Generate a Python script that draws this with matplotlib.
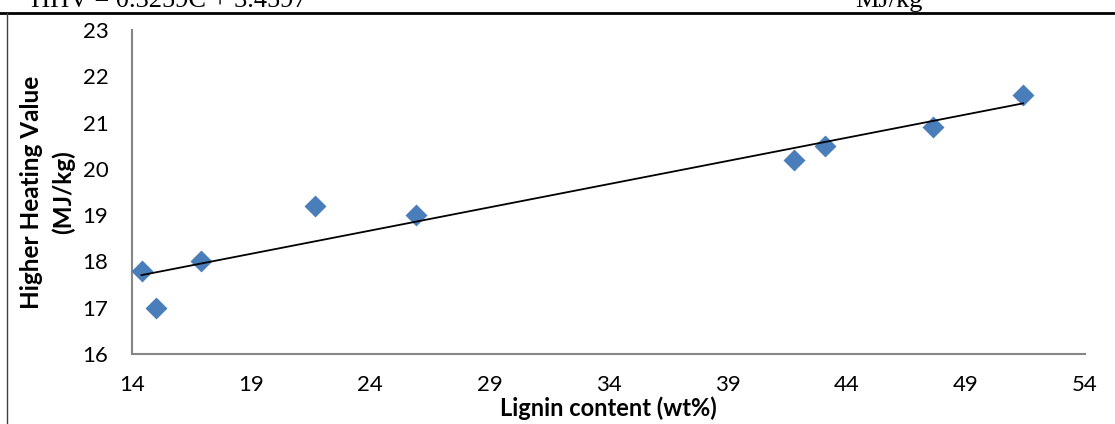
import numpy as np
import matplotlib
matplotlib.use("Agg")
import matplotlib.pyplot as plt
from matplotlib.lines import Line2D

# lignin content (wt%) vs higher heating value (MJ/kg)
lignin = [14.4, 15.0, 16.9, 21.7, 25.9, 41.8, 43.1, 47.6, 51.4]
hhv = [17.8, 17.0, 18.0, 19.2, 19.0, 20.2, 20.5, 20.9, 21.6]
x_ticks = [14, 19, 24, 29, 34, 39, 44, 49, 54]
y_ticks = [16, 17, 18, 19, 20, 21, 22, 23]

plt.rcParams['font.family'] = ['Lato', 'DejaVu Sans']

fig = plt.figure(figsize=(11.15, 4.24), dpi=100)
ax = fig.add_axes([0.1184, 0.1651, 0.8547, 0.7641])

ax.scatter(lignin, hhv, marker='D', s=125, color='#4A7EBB', linewidths=0, zorder=3)

# linear trendline
coef = np.polyfit(lignin, hhv, 1)
xs = np.array([min(lignin), max(lignin)])
ax.plot(xs, np.polyval(coef, xs), color='black', lw=1.3, zorder=4)

ax.set_xlim(14, 54)
ax.set_ylim(16, 23)
ax.set_xticks(x_ticks)
ax.set_yticks(y_ticks)
ax.tick_params(length=0, labelsize=16)
ax.tick_params(axis='y', pad=17)
ax.tick_params(axis='x', pad=15)
for s in ['top', 'right']:
    ax.spines[s].set_visible(False)
for s in ['left', 'bottom']:
    ax.spines[s].set_color('#868686')
    ax.spines[s].set_linewidth(1.5)

ax.set_xlabel('Lignin content (wt%)', fontsize=17, fontweight='bold', labelpad=1)
ax.set_ylabel('Higher Heating Value\n(MJ/kg)', fontsize=17.5, fontweight='bold',
              labelpad=5, linespacing=1.45)

# cut-off caption from the page above the chart
fig.text(0.028, 1 - 7 / 424, 'HHV = 0.3259C + 3.4597', family='Liberation Serif',
         fontsize=19, va='baseline', ha='left')
fig.text(0.767, 1 - 7 / 424, 'MJ/kg', family='Liberation Serif',
         fontsize=19, va='baseline', ha='left')
fig.add_artist(Line2D([0, 1], [1 - 12.5 / 424] * 2, transform=fig.transFigure,
                      color='black', lw=2))
fig.add_artist(Line2D([7 / 1115] * 2, [0, 1 - 12.5 / 424], transform=fig.transFigure,
                      color='#404040', lw=1))

fig.savefig('out.png', dpi=100)
